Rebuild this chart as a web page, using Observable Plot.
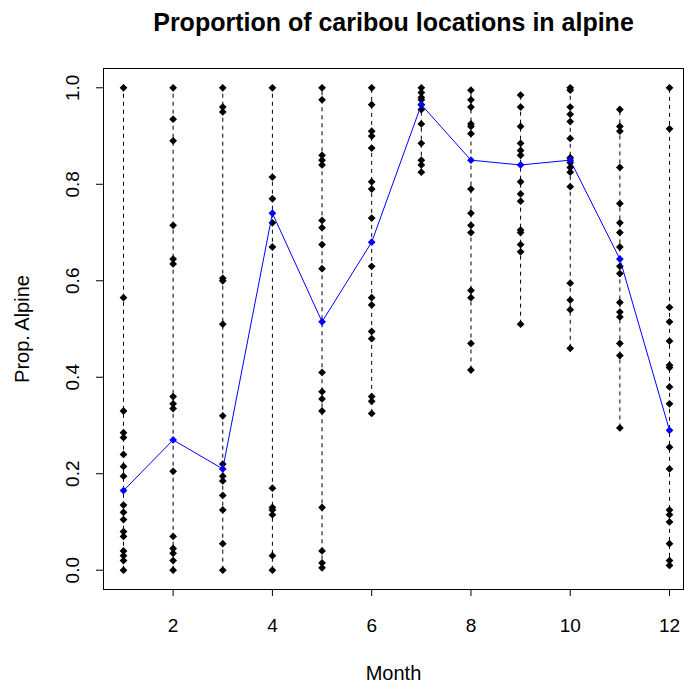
<!DOCTYPE html>
<html><head><meta charset="utf-8">
<script src="https://cdn.jsdelivr.net/npm/d3@7"></script>
<script src="https://cdn.jsdelivr.net/npm/@observablehq/plot@0.6"></script>
<style>body{margin:0;background:#fff;} #chart svg{font-family:"Liberation Sans",Arial,sans-serif;}</style>
</head><body><div id="chart"></div>
<script>
const months = [1,2,3,4,5,6,7,8,9,10,11,12];
const xTicks = [2,4,6,8,10,12];
const yTicks = [0,0.2,0.4,0.6,0.8,1.0];
const meanProp = [0.165,0.27,0.21,0.74,0.515,0.68,0.965,0.85,0.84,0.85,0.645,0.29];

const m01 = [1.0,0.565,0.33,0.285,0.275,0.24,0.215,0.195,0.135,0.12,0.105,0.08,0.07,0.04,0.03,0.02,0.0];
const m02 = [1.0,0.935,0.89,0.715,0.645,0.635,0.36,0.345,0.335,0.205,0.07,0.045,0.035,0.02,0.0];
const m03 = [1.0,0.96,0.95,0.605,0.6,0.51,0.32,0.22,0.195,0.185,0.155,0.125,0.055,0.0];
const m04 = [1.0,0.815,0.77,0.72,0.67,0.17,0.13,0.125,0.115,0.03,0.0];
const m05 = [1.0,0.975,0.86,0.85,0.84,0.725,0.71,0.675,0.625,0.41,0.37,0.355,0.33,0.13,0.04,0.015,0.005];
const m06 = [1.0,0.965,0.91,0.9,0.875,0.805,0.79,0.73,0.63,0.565,0.55,0.495,0.48,0.36,0.35,0.325];
const m07 = [1.0,0.99,0.98,0.975,0.965,0.955,0.925,0.885,0.85,0.84,0.825];
const m08 = [0.995,0.975,0.96,0.925,0.92,0.905,0.79,0.74,0.715,0.70,0.58,0.565,0.47,0.415];
const m09 = [0.985,0.96,0.92,0.885,0.87,0.86,0.805,0.78,0.765,0.705,0.70,0.675,0.66,0.51];
const m10 = [1.0,0.995,0.96,0.945,0.93,0.895,0.855,0.845,0.835,0.825,0.795,0.595,0.56,0.54,0.46];
const m11 = [0.955,0.92,0.91,0.835,0.76,0.72,0.70,0.67,0.63,0.615,0.555,0.535,0.525,0.47,0.445,0.295];
const m12 = [1.0,0.915,0.545,0.515,0.475,0.425,0.42,0.38,0.345,0.255,0.21,0.125,0.115,0.1,0.055,0.02,0.01];

const byMonth = [m01,m02,m03,m04,m05,m06,m07,m08,m09,m10,m11,m12];
const points = byMonth.flatMap((vals,i)=>vals.map(v=>({month:months[i], prop:v})));
const ranges = byMonth.map((vals,i)=>({month:months[i], lo:d3.min(vals), hi:d3.max(vals)}));
const means = months.map((m,i)=>({month:m, prop:meanProp[i]}));

const chart = Plot.plot({
  width:684, height:684,
  marginTop:68, marginBottom:95, marginLeft:103, marginRight:1,
  style:{fontFamily:'"Liberation Sans",Arial,sans-serif', fontSize:"19px", background:"white", color:"black", overflow:"visible"},
  x:{domain:[0.597,12.282], label:null},
  y:{domain:[-0.04,1.04], label:null},
  marks:[
    Plot.ruleX(ranges,{x:"month", y1:"lo", y2:"hi", stroke:"black", strokeWidth:1, strokeDasharray:"4,4"}),
    Plot.dot(points,{x:"month", y:"prop", symbol:"diamond2", fill:"black", stroke:"none", r:3.5}),
    Plot.line(means,{x:"month", y:"prop", stroke:"#0000ff", strokeWidth:1}),
    Plot.dot(means,{x:"month", y:"prop", symbol:"diamond2", fill:"#0000ff", stroke:"none", r:3.5}),
    Plot.frame({stroke:"black", strokeWidth:1}),
    Plot.axisX(xTicks,{tickSize:7, tickPadding:22, fontSize:19, label:null, tickFormat:d=>String(d)}),
    Plot.axisY(yTicks,{tickSize:7, label:null, tickFormat:()=>""}),
    Plot.text(yTicks,{y:d=>d, text:d=>d.toFixed(1), frameAnchor:"left", textAnchor:"middle", lineAnchor:"middle", rotate:-90, dx:-31, fontSize:19}),
    Plot.text(["Proportion of caribou locations in alpine"],{text:d=>d, frameAnchor:"top", textAnchor:"middle", lineAnchor:"top", dy:-55, fontWeight:"bold", fontSize:25}),
    Plot.text(["Prop. Alpine"],{text:d=>d, frameAnchor:"left", textAnchor:"middle", lineAnchor:"middle", rotate:-90, dx:-81, fontSize:20}),
    Plot.text(["Month"],{text:d=>d, frameAnchor:"bottom", textAnchor:"middle", lineAnchor:"top", dy:76, fontSize:20})
  ]
});
document.getElementById("chart").append(chart);
</script>
</body></html>
